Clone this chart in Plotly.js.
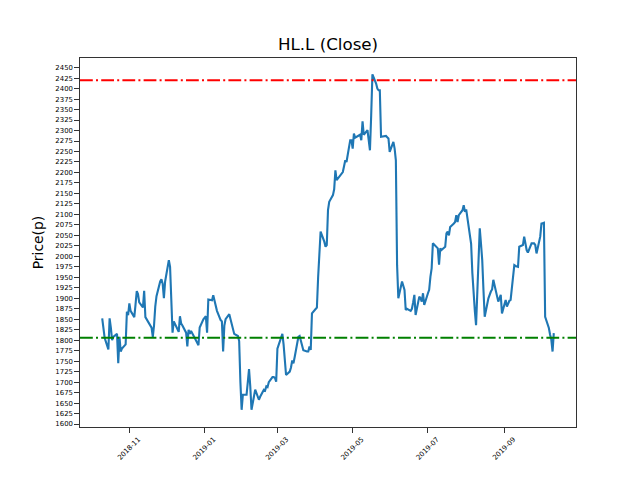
<!DOCTYPE html>
<html>
<head>
<meta charset="utf-8">
<script src="https://cdn.plot.ly/plotly-3.0.1.min.js"></script>
<style>
  html, body { margin: 0; padding: 0; background: #fff; }
  #plot { width: 640px; height: 480px; }
</style>
</head>
<body>
<div id="plot"></div>
<script>
// HL.L daily close
var dates = [
  "2018-10-10","2018-10-11","2018-10-12","2018-10-15","2018-10-16","2018-10-17","2018-10-18","2018-10-19",
  "2018-10-22","2018-10-23","2018-10-24","2018-10-25","2018-10-26","2018-10-29","2018-10-30","2018-10-31",
  "2018-11-01","2018-11-02","2018-11-05","2018-11-06","2018-11-07","2018-11-08","2018-11-09","2018-11-12",
  "2018-11-13","2018-11-14","2018-11-15","2018-11-16","2018-11-19","2018-11-20","2018-11-21","2018-11-22",
  "2018-11-23","2018-11-26","2018-11-27","2018-11-28","2018-11-29","2018-11-30","2018-12-03","2018-12-04",
  "2018-12-05","2018-12-06","2018-12-07","2018-12-10","2018-12-11","2018-12-12","2018-12-13","2018-12-14",
  "2018-12-17","2018-12-18","2018-12-19","2018-12-20","2018-12-21","2018-12-24","2018-12-27","2018-12-28",
  "2018-12-31","2019-01-02","2019-01-03","2019-01-04","2019-01-07","2019-01-08","2019-01-09","2019-01-10",
  "2019-01-11","2019-01-14","2019-01-15","2019-01-16","2019-01-17","2019-01-18","2019-01-21","2019-01-22",
  "2019-01-23","2019-01-24","2019-01-25","2019-01-28","2019-01-29","2019-01-30","2019-01-31","2019-02-01",
  "2019-02-04","2019-02-05","2019-02-06","2019-02-07","2019-02-08","2019-02-11","2019-02-12","2019-02-13",
  "2019-02-14","2019-02-15","2019-02-18","2019-02-19","2019-02-20","2019-02-21","2019-02-22","2019-02-25",
  "2019-02-26","2019-02-27","2019-02-28","2019-03-01","2019-03-04","2019-03-05","2019-03-06","2019-03-07",
  "2019-03-08","2019-03-11","2019-03-12","2019-03-13","2019-03-14","2019-03-15","2019-03-18","2019-03-19",
  "2019-03-20","2019-03-21","2019-03-22","2019-03-25","2019-03-26","2019-03-27","2019-03-28","2019-03-29",
  "2019-04-01","2019-04-02","2019-04-03","2019-04-04","2019-04-05","2019-04-08","2019-04-09","2019-04-10",
  "2019-04-11","2019-04-12","2019-04-15","2019-04-16","2019-04-17","2019-04-18","2019-04-23","2019-04-24",
  "2019-04-25","2019-04-26","2019-04-29","2019-04-30","2019-05-01","2019-05-02","2019-05-03","2019-05-07",
  "2019-05-08","2019-05-09","2019-05-10","2019-05-13","2019-05-14","2019-05-15","2019-05-16","2019-05-17",
  "2019-05-20","2019-05-21","2019-05-22","2019-05-23","2019-05-24","2019-05-28","2019-05-29","2019-05-30",
  "2019-05-31","2019-06-03","2019-06-04","2019-06-05","2019-06-06","2019-06-07","2019-06-10","2019-06-11",
  "2019-06-12","2019-06-13","2019-06-14","2019-06-17","2019-06-18","2019-06-19","2019-06-20","2019-06-21",
  "2019-06-24","2019-06-25","2019-06-26","2019-06-27","2019-06-28","2019-07-01","2019-07-02","2019-07-03",
  "2019-07-04","2019-07-05","2019-07-08","2019-07-09","2019-07-10","2019-07-11","2019-07-12","2019-07-15",
  "2019-07-16","2019-07-17","2019-07-18","2019-07-19","2019-07-22","2019-07-23","2019-07-24","2019-07-25",
  "2019-07-26","2019-07-29","2019-07-30","2019-07-31","2019-08-01","2019-08-02","2019-08-05","2019-08-06",
  "2019-08-07","2019-08-08","2019-08-09","2019-08-12","2019-08-13","2019-08-14","2019-08-15","2019-08-16",
  "2019-08-19","2019-08-20","2019-08-21","2019-08-22","2019-08-23","2019-08-27","2019-08-28","2019-08-29",
  "2019-08-30","2019-09-02","2019-09-03","2019-09-04","2019-09-05","2019-09-06","2019-09-09","2019-09-10",
  "2019-09-11","2019-09-12","2019-09-13","2019-09-16","2019-09-17","2019-09-18","2019-09-19","2019-09-20",
  "2019-09-23","2019-09-24","2019-09-25","2019-09-26","2019-09-27","2019-09-30","2019-10-01","2019-10-02",
  "2019-10-03","2019-10-04","2019-10-07","2019-10-08","2019-10-09","2019-10-10","2019-10-11"
];
var close = [
  1852,1820,1805,1778,1852,1830,1800,1808,
  1815,1745,1808,1773,1780,1790,1868,1860,
  1888,1870,1855,1885,1917,1910,1890,1878,
  1918,1855,1850,1845,1830,1808,1835,1880,
  1905,1940,1945,1935,1900,1940,1991,1975,
  1890,1818,1845,1825,1820,1857,1840,1835,
  1818,1785,1825,1815,1822,1805,1788,1830,
  1850,1857,1818,1897,1895,1907,1895,1880,
  1870,1848,1845,1773,1835,1850,1862,1850,
  1840,1825,1815,1810,1798,1700,1634,1670,
  1670,1700,1731,1690,1634,1682,1675,1665,
  1658,1665,1682,1680,1690,1688,1700,1712,
  1712,1710,1701,1780,1810,1815,1790,1750,
  1717,1725,1735,1752,1745,1760,1808,1810,
  1800,1789,1776,1773,1773,1785,1777,1864,
  1876,1878,1950,2011,2059,2035,2023,2027,
  2110,2130,2146,2160,2205,2182,2201,2215,
  2229,2225,2277,2277,2257,2293,2283,2290,
  2277,2322,2290,2301,2277,2253,2336,2434,
  2412,2400,2396,2396,2285,2287,2284,2281,
  2249,2273,2257,2229,1979,1900,1940,1928,
  1920,1872,1875,1870,1875,1890,1908,1860,
  1904,1900,1892,1912,1884,1912,1920,1951,
  1971,2031,2023,2019,1980,2019,2015,2023,
  2055,2059,2050,2070,2078,2082,2098,2082,
  2098,2110,2122,2106,2112,2094,2030,1960,
  1900,1870,1836,2067,2030,1991,1920,1856,
  1900,1910,1916,1921,1944,1892,1900,1908,
  1864,1896,1880,1890,1894,1896,1979,1977,
  1975,1975,2023,2027,2047,2027,2015,2009,
  2031,2031,2031,2027,2007,2047,2078,2079,
  2080,1856,1829,1813,1801,1773,1817
];

var upperLevel = 2420;   // red dash-dot
var lowerLevel = 1806;   // green dash-dot

var xTickVals = ["2018-11-01","2019-01-01","2019-03-01","2019-05-01","2019-07-01","2019-09-01"];
var xTickText = ["2018-11","2019-01","2019-03","2019-05","2019-07","2019-09"];

var trace = {
  x: dates,
  y: close,
  type: "scatter",
  mode: "lines",
  line: {color: "#1f77b4", width: 2.1},
  hoverinfo: "x+y"
};

var dashdot = "12.8px,3.2px,2px,3.2px";

var layout = {
  width: 640,
  height: 480,
  paper_bgcolor: "#fff",
  plot_bgcolor: "#fff",
  showlegend: false,
  margin: {l: 80, r: 64, t: 58, b: 53},
  font: {family: "DejaVu Sans", color: "#000"},
  title: {
    text: "HL.L (Close)",
    font: {family: "DejaVu Sans", size: 16.7, color: "#000"},
    x: 0.5, xref: "paper", xanchor: "center",
    y: 1 - 44 / 480, yref: "container", yanchor: "middle"
  },
  xaxis: {
    type: "date",
    range: ["2018-09-22", "2019-10-29"],
    tickmode: "array",
    tickvals: xTickVals,
    ticktext: xTickText,
    tickangle: -45,
    ticklabelshift: 9,
    tickfont: {family: "DejaVu Sans", size: 6.9, color: "#000"},
    ticks: "outside",
    ticklen: 4.9,
    tickwidth: 0.8,
    tickcolor: "#000",
    showline: true,
    linecolor: "#000",
    linewidth: 0.8,
    mirror: true,
    showgrid: false,
    zeroline: false
  },
  yaxis: {
    range: [1593, 2473],
    tick0: 1600,
    dtick: 25,
    tickfont: {family: "DejaVu Sans", size: 6.9, color: "#000"},
    ticks: "outside",
    ticklen: 4.9,
    tickwidth: 0.8,
    tickcolor: "#000",
    showline: true,
    linecolor: "#000",
    linewidth: 0.8,
    mirror: true,
    showgrid: false,
    zeroline: false,
    title: {
      text: "Price(p)",
      font: {family: "DejaVu Sans", size: 13.9, color: "#000"},
      standoff: 8
    },
    automargin: false
  },
  shapes: [
    {type: "line", xref: "paper", x0: 0, x1: 1, yref: "y", y0: upperLevel, y1: upperLevel,
     line: {color: "#ff0000", width: 2, dash: dashdot}},
    {type: "line", xref: "paper", x0: 0, x1: 1, yref: "y", y0: lowerLevel, y1: lowerLevel,
     line: {color: "#008000", width: 2, dash: dashdot}}
  ]
};

Plotly.newPlot("plot", [trace], layout, {staticPlot: true, displayModeBar: false});
</script>
</body>
</html>
